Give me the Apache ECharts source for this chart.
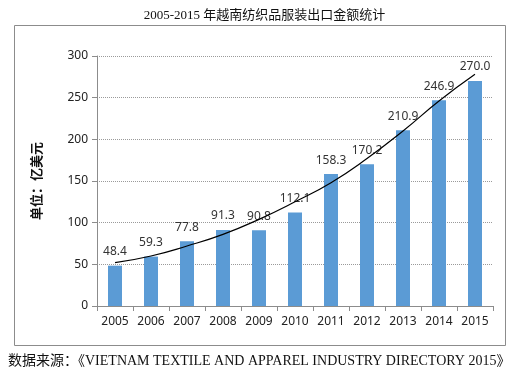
<!DOCTYPE html>
<html>
<head>
<meta charset="utf-8">
<script src="https://cdn.jsdelivr.net/npm/echarts@6/dist/echarts.min.js"></script>
<style>
html,body{margin:0;padding:0;background:#fff;}
#main{width:529px;height:375px;}
</style>
</head>
<body>
<div id="main"></div>
<script>
// years on the x axis
var years = ['2005','2006','2007','2008','2009','2010','2011','2012','2013','2014','2015'];
// export value, 亿美元
var exportValue = [48.4, 59.3, 77.8, 91.3, 90.8, 112.1, 158.3, 170.2, 210.9, 246.9, 270.0];
// trend curve at each year
var trendValue = [52, 60, 72, 86, 104, 125, 148, 177, 210, 246, 278];

var titleText = '2005-2015 年越南纺织品服装出口金额统计';
var unitText = '单位：亿美元';
var sourceText = '数据来源：《VIETNAM TEXTILE AND APPAREL INDUSTRY DIRECTORY 2015》';

var chart = echarts.init(document.getElementById('main'));

var option = {
    backgroundColor: '#fff',
    animation: false,
    title: {
        text: titleText,
        left: 'center',
        top: 4,
        textStyle: {
            fontFamily: '"Liberation Serif", "Noto Sans CJK SC"',
            fontSize: 13,
            fontWeight: 'normal',
            color: '#111'
        }
    },
    graphic: [
        {
            type: 'rect',
            shape: {x: 14.5, y: 25.5, width: 491, height: 320},
            style: {fill: 'none', stroke: '#8c8c8c', lineWidth: 1},
            z: -1
        },
        {
            type: 'text',
            left: 8,
            top: 354,
            style: {
                text: sourceText,
                font: '14px "Liberation Serif", "Noto Sans CJK SC"',
                fill: '#111'
            }
        }
    ],
    grid: {left: 97, right: 36, top: 56, bottom: 69},
    xAxis: {
        type: 'category',
        data: years,
        axisLine: {lineStyle: {color: '#8c8c8c'}},
        axisTick: {show: true, alignWithLabel: false, length: 5, lineStyle: {color: '#8c8c8c'}},
        axisLabel: {color: '#222', fontSize: 12, margin: 10, fontFamily: 'Noto Sans'}
    },
    yAxis: {
        type: 'value',
        min: 0,
        max: 300,
        interval: 50,
        name: unitText,
        nameLocation: 'middle',
        nameRotate: 90,
        nameGap: 54,
        nameTextStyle: {
            fontFamily: 'Noto Sans CJK SC',
            fontSize: 13,
            fontWeight: 'bold',
            color: '#111'
        },
        axisLine: {show: true, lineStyle: {color: '#8c8c8c'}},
        axisTick: {show: true, length: 5, lineStyle: {color: '#8c8c8c'}},
        axisLabel: {color: '#222', fontSize: 12, margin: 9, fontFamily: 'Noto Sans'},
        splitLine: {lineStyle: {color: '#9a9a9a', type: 'dotted', width: 1}}
    },
    series: [
        {
            name: '出口金额',
            type: 'bar',
            data: exportValue,
            barWidth: 14,
            itemStyle: {color: '#5b9bd5'},
            label: {
                show: true,
                position: 'top',
                distance: 8,
                color: '#333',
                fontSize: 12,
                fontFamily: 'Noto Sans',
                formatter: function (p) { return p.value.toFixed(1); }
            }
        },
        {
            name: '趋势',
            type: 'line',
            data: trendValue,
            smooth: true,
            symbol: 'none',
            lineStyle: {color: '#000', width: 1.2},
            z: 5
        }
    ]
};

chart.setOption(option);
</script>
</body>
</html>
